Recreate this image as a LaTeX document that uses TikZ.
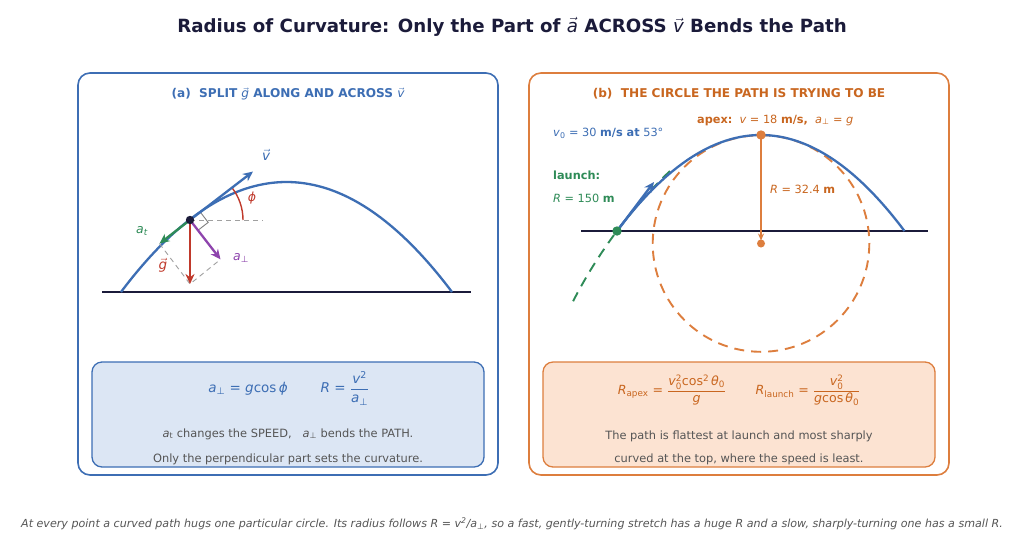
\documentclass[tikz,border=0pt]{standalone}
\usepackage{fontspec}
\usepackage{amsmath}
\setmainfont{DejaVu Sans}
\usetikzlibrary{arrows.meta,calc}
\definecolor{cblue}{HTML}{3D6EB4}
\definecolor{corange}{HTML}{DD7E3E}
\definecolor{ctorange}{HTML}{C9661F}
\definecolor{cgreen}{HTML}{2E8B57}
\definecolor{cred}{HTML}{C0392B}
\definecolor{cpurple}{HTML}{8E44AD}
\definecolor{cdark}{HTML}{1B1B3A}
\definecolor{cgray}{HTML}{555555}
\definecolor{cdash}{HTML}{A0A0A0}
\definecolor{bluefill}{HTML}{DCE6F4}
\definecolor{orangefill}{HTML}{FCE3D2}
\newcommand\mi[1]{\text{\mdseries\itshape #1}}
\newcommand\pp{\textsubscript{⊥}}
\begin{document}
\begin{tikzpicture}[x=1pt,y=-1pt,
  panel/.style={line width=1.6pt, rounded corners=12pt},
  infobox/.style={line width=1.3pt, rounded corners=10pt},
  ground/.style={cdark, line width=1.8pt},
  traj/.style={cblue, line width=2.3pt},
  vec/.style={line width=2.3pt, -{Stealth[length=10pt,width=9pt]}},
  helper/.style={cdash, line width=0.9pt, dash pattern=on 5pt off 4pt},
  lbl/.style={inner sep=1pt, font=\fontsize{11.3}{13}\selectfont},
  body/.style={cgray, inner sep=1pt, font=\fontsize{11.4}{13}\selectfont},
  formula/.style={inner sep=1pt, font=\fontsize{13.5}{16}\selectfont},
  formulab/.style={inner sep=1pt, font=\fontsize{12.6}{15}\selectfont}]
\useasboundingbox[fill=white] (0,0) rectangle (1024,550);

% title
\node[cdark, font=\fontsize{18.2}{21}\bfseries] (title) at (512,27)
  {Radius of Curvature: Only the Part of $\vec{\mi{a}}$ ACROSS $\vec{\mi{v}}$ Bends the Path};

% panels
\draw[cblue, panel] (78,73) rectangle (498,475);
\draw[corange, panel] (529,73) rectangle (949,475);
\node[cblue, font=\fontsize{12.1}{14}\bfseries] (ta) at (288,94)
  {(a)\ \ SPLIT $\vec{\mi{g}}$ ALONG AND ACROSS $\vec{\mi{v}}$};
\node[ctorange, font=\fontsize{12.1}{14}\bfseries] (tb) at (739,94)
  {(b)\ \ THE CIRCLE THE PATH IS TRYING TO BE};

% ---------- left diagram ----------
\draw[ground] (102,292) -- (471,292);
\draw[traj] plot[domain=121:452, samples=80] (\x, {292 - 110*(1-((\x-286.5)/165.5)^2)});
\coordinate (P) at (190,220);
\coordinate (Vt) at (253,171.5);
\coordinate (Gt) at (190,284);
\coordinate (At) at (159.5,243.6);
\coordinate (An) at (220.5,259.4);
\coordinate (Hd) at (263,220);
\draw[helper] (P) -- (Hd);
\draw[helper] (At) -- (Gt) -- (An);
\draw[cred, line width=1.4pt] ($(P)+(53,0)$) arc[start angle=0, end angle=-37.7, radius=53];
\draw[gray, line width=0.9pt] ($(P)+(10.3,-7.9)$) -- ++(7.9,10.3) -- ++(-10.3,7.9);
\draw[vec, cblue] (P) -- (Vt);
\draw[vec, cred] (P) -- (Gt);
\draw[vec, cgreen] (P) -- (At);
\draw[vec, cpurple] (P) -- (An);
\fill[cdark] (P) circle[radius=4.2];
\node[lbl, cblue, font=\fontsize{13.5}{15}\selectfont] (lv) at (266,155) {$\vec{\mi{v}}$};
\node[lbl, cred, font=\fontsize{12.5}{14}\selectfont] (lphi) at (252,198) {\itshape ϕ};
\node[lbl, cgreen, font=\fontsize{12.5}{14}\selectfont] (lat) at (142,231) {\itshape a\textsubscript{t}};
\node[lbl, cred, font=\fontsize{13.5}{15}\selectfont] (lg) at (163,265) {$\vec{\mi{g}}$};
\node[lbl, cpurple, font=\fontsize{12.5}{14}\selectfont] (lan) at (241,258) {\itshape a\pp};

% ---------- right diagram ----------
\draw[ground] (581,231) -- (928,231);
\coordinate (C) at (761,243.5);
\coordinate (A) at (761,135);
\coordinate (L) at (617,231);
\coordinate (LC) at (1013.3,527.5);
\coordinate (Lv) at (654,182);
\draw[corange, line width=1.9pt, dash pattern=on 10pt off 7pt] (C) circle[radius=108.3];
\draw[cgreen, line width=1.9pt, dash pattern=on 10pt off 7pt] ($(LC)+(207.2:495)$) arc[start angle=207.2, end angle=226.2, radius=495];
\draw[traj] plot[domain=617:904.5, samples=80] (\x, {231 - 96*(1-((\x-760.75)/143.75)^2)});
\draw[cblue, line width=2.4pt, -{Stealth[length=10pt,width=9pt]}] (L) -- (Lv);
\draw[corange, line width=1.7pt, -{Stealth[length=7pt,width=6pt]}, shorten >=3pt] (A) -- (C);
\fill[corange] (A) circle[radius=4.7];
\fill[corange] (C) circle[radius=4];
\fill[cgreen] (L) circle[radius=4.7];
\node[lbl, cblue, anchor=west] (lv0) at (552,133) {\textit{v}\textsubscript{0} = 30 \textbf{m/s at} 53°};
\node[lbl, ctorange, anchor=west] (lapex) at (696,120) {\textbf{apex:}\ \ \textit{v} = 18 \textbf{m/s,}\ \ \textit{a}\pp\ = \textit{g}};
\node[lbl, cgreen, anchor=west] (llaunch) at (552,175) {\textbf{launch:}};
\node[lbl, cgreen, anchor=west] (lR150) at (552,198) {\textit{R} = 150 \textbf{m}};
\node[lbl, ctorange, anchor=west] (lR32) at (769,189) {\textit{R} = 32.4 \textbf{m}};

% ---------- info boxes ----------
\draw[cblue, fill=bluefill, infobox] (92,362) rectangle (484,467);
\draw[corange, fill=orangefill, infobox] (543,362) rectangle (935,467);

\node[formula, cblue] (fa1) at (248,389) {\textit{a}\pp\ = \textit{g}cos\,\textit{ϕ}};
\node[formula, cblue] (fa2) at (345,388) {\textit{R} = $\dfrac{\mi{v}^{\text{2}}}{\mi{a}_{\text{⊥}}}$};
\node[body] (ba1) at (288,434) {\textit{a}\textsubscript{t} changes the SPEED,\ \ \ \textit{a}\pp\ bends the PATH.};
\node[body] (ba2) at (288,459) {Only the perpendicular part sets the curvature.};

\node[formulab, ctorange] (fb1) at (672,390) {\textit{R}\textsubscript{apex} = $\dfrac{\mi{v}_{\text{0}}^{\text{2}}\text{cos}^{\text{2}}\,\mi{θ}_{\text{0}}}{\mi{g}}$};
\node[formulab, ctorange] (fb2) at (808,390) {\textit{R}\textsubscript{launch} = $\dfrac{\mi{v}_{\text{0}}^{\text{2}}}{\mi{g}\text{cos}\,\mi{θ}_{\text{0}}}$};
\node[body] (bb1) at (739,436) {The path is flattest at launch and most sharply};
\node[body] (bb2) at (739,459) {curved at the top, where the speed is least.};

% footer
\node[cgray, font=\fontsize{11.1}{13}\itshape] (foot) at (512,524)
  {At every point a curved path hugs one particular circle. Its radius follows \textit{R} = \textit{v}\textsuperscript{2}/\textit{a}\pp, so a fast, gently-turning stretch has a huge \textit{R} and a slow, sharply-turning one has a small \textit{R}.};
\end{tikzpicture}
\end{document}
